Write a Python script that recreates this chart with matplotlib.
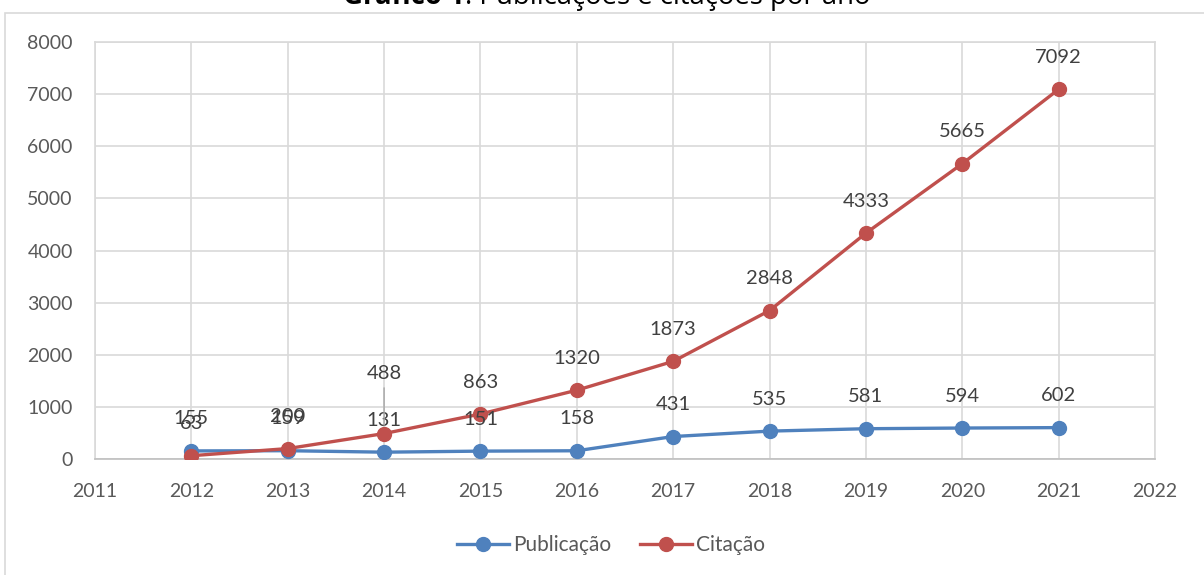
import matplotlib
matplotlib.use("Agg")
import matplotlib.pyplot as plt
from matplotlib.patches import Rectangle

years = [2012, 2013, 2014, 2015, 2016, 2017, 2018, 2019, 2020, 2021]
publicacao = [155, 159, 131, 151, 158, 431, 535, 581, 594, 602]
citacao = [63, 200, 488, 863, 1320, 1873, 2848, 4333, 5665, 7092]
series_names = ["Publicação", "Citação"]
yticks = [0, 1000, 2000, 3000, 4000, 5000, 6000, 7000, 8000]
xticks = list(range(2011, 2023))

plt.rcParams['font.family'] = ['Lato', 'DejaVu Sans']
W, H = 1204, 575
fig = plt.figure(figsize=(W / 100, H / 100), dpi=100)

# outer chart border
fig.patches.append(Rectangle((5 / W, -0.1), 1.2, 1 - 13 / H + 0.1, transform=fig.transFigure,
                             fill=False, edgecolor='#d9d9d9', linewidth=1.2))

ax = fig.add_axes([95 / W, 1 - 459 / H, (1155 - 95) / W, (459 - 42) / H])
blue = '#4F81BD'
red = '#C0504D'
txt = '#404040'
grid = '#d9d9d9'

ax.plot(years, publicacao, color=blue, lw=2.4, marker='o', ms=10, label=series_names[0], zorder=3)
ax.plot(years, citacao, color=red, lw=2.4, marker='o', ms=10, label=series_names[1], zorder=4)

ax.set_xlim(2011, 2022)
ax.set_ylim(0, 8000)
ax.set_xticks(xticks)
ax.set_yticks(yticks)
ax.grid(True, color=grid, lw=1.2)
ax.set_axisbelow(True)
for s in ax.spines.values():
    s.set_color(grid)
    s.set_linewidth(1.2)
ax.spines['bottom'].set_color('#bfbfbf')
ax.tick_params(length=0, labelsize=14, labelcolor='#595959')
ax.tick_params(axis='x', pad=17)
ax.tick_params(axis='y', pad=16)

for x, v in zip(years, publicacao):
    ax.annotate(str(v), (x, v), xytext=(0, 23), textcoords='offset points',
                ha='center', va='center', fontsize=14.5, color=txt, zorder=6)
for x, v in zip(years, citacao):
    if x == 2014:
        ax.annotate(str(v), (x, v), xytext=(0, 43), textcoords='offset points',
                    ha='center', va='center', fontsize=14.5, color=txt, zorder=6,
                    arrowprops=dict(arrowstyle='-', color='#a6a6a6', lw=1, shrinkA=2, shrinkB=6))
    else:
        ax.annotate(str(v), (x, v), xytext=(0, 23), textcoords='offset points',
                    ha='center', va='center', fontsize=14.5, color=txt, zorder=6)

leg = fig.legend(loc='center', bbox_to_anchor=(611 / W, 1 - 545 / H), ncol=2, frameon=False,
                 fontsize=15, handlelength=2.5, columnspacing=1.4, handletextpad=0.2)
for t in leg.get_texts():
    t.set_color('#595959')

# title, partly cut off at top; fit to span x=343..872
x0, x1_target = 343, 872
fs = 18
tfam = ['Open Sans', 'DejaVu Sans']
t1 = fig.text(x0 / W, 1 - 4 / H, "Gráfico 1", fontsize=fs, fontweight='bold', color='black',
              ha='left', va='baseline', family=tfam)
t2 = fig.text(0, 1 - 4 / H, ": Publicações e citações por ano", fontsize=fs, color='black',
              ha='left', va='baseline', family=tfam)
fig.canvas.draw()
r = fig.canvas.get_renderer()
w = t1.get_window_extent(r).width + t2.get_window_extent(r).width
fs2 = fs * (x1_target - x0) / w
t1.set_fontsize(fs2)
t2.set_fontsize(fs2)
fig.canvas.draw()
ext = t1.get_window_extent(r)
t2.set_x(ext.x1 / W)

fig.savefig('out.png', dpi=100)
